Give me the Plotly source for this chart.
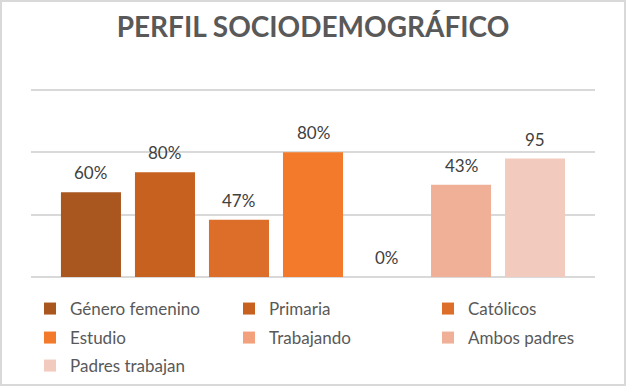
import plotly.graph_objects as go

# ---- data ----
series = ["Género femenino", "Primaria", "Católicos", "Estudio",
          "Trabajando", "Ambos padres", "Padres trabajan"]
values = [68, 84, 46, 100, 0, 74, 95]
labels = ["60%", "80%", "47%", "80%", "0%", "43%", "95"]
colors = ["#A9561F", "#C6611F", "#DC6E2A", "#F27A2A",
          "#F3A07C", "#F0B098", "#F2CBBE"]
legend_rows = ["legend", "legend", "legend",
               "legend2", "legend2", "legend2", "legend3"]
grid_vals = [0, 50, 100, 150]

W, H = 626, 386
L, R, T, B = 31, 31, 84, 109
pw, ph = W - L - R, H - T - B
y_top = 150 * ph / 187.0   # 150 units span 187 px

FONT = "Lato, 'Open Sans', sans-serif"

fig = go.Figure()
for name, v, c, lg in zip(series, values, colors, legend_rows):
    fig.add_trace(go.Bar(
        x=[name], y=[v], name=name, legend=lg,
        marker=dict(color=c, line=dict(width=0)),
        hoverinfo="skip",
    ))

for name, v, t in zip(series, values, labels):
    fig.add_annotation(x=name, y=v, text=t, showarrow=False,
                       yanchor="middle", yshift=19.5,
                       font=dict(family=FONT, size=17, color="#404040"))

leg_common = dict(orientation="h", xanchor="left", x=-1 / pw,
                  yanchor="middle", entrywidth=154, entrywidthmode="pixels",
                  font=dict(family=FONT, size=17, color="#595959"),
                  bgcolor="rgba(0,0,0,0)", borderwidth=0)

fig.update_layout(
    width=W, height=H,
    margin=dict(l=L, r=R, t=T, b=B, autoexpand=False),
    paper_bgcolor="white", plot_bgcolor="white",
    barmode="overlay", bargap=0.189,
    title=dict(text="<b>PERFIL SOCIODEMOGRÁFICO</b>", x=0.5, xanchor="center",
               y=1 - 27 / H, yanchor="middle", yref="container",
               font=dict(family=FONT, size=28, color="#595959")),
    xaxis=dict(type="category", categoryorder="array", categoryarray=series,
               range=[-0.81, len(series) - 1 + 0.81],
               showticklabels=False, showgrid=False, zeroline=False,
               showline=False, ticks=""),
    yaxis=dict(range=[0, y_top], tickvals=grid_vals,
               showticklabels=False,
               showgrid=True, gridcolor="#D9D9D9", gridwidth=1.5,
               zeroline=True, zerolinecolor="#D9D9D9", zerolinewidth=1.5,
               showline=False, ticks=""),
    legend=dict(**leg_common, y=-(309 - (T + ph)) / ph),
    legend2=dict(**leg_common, y=-(338 - (T + ph)) / ph),
    legend3=dict(**leg_common, y=-(366 - (T + ph)) / ph),
    showlegend=True,
)

# outer chart frame
fig.add_shape(type="rect", xref="paper", yref="paper",
              x0=-(L - 1) / pw, x1=1 + (R - 1) / pw,
              y0=-(B - 1) / ph, y1=1 + (T - 1) / ph,
              line=dict(color="#D9D9D9", width=2), fillcolor="rgba(0,0,0,0)",
              layer="below")

fig.write_html("out.html", config={"displayModeBar": False},
               post_script="document.body.style.margin='0';document.body.style.padding='0';")
